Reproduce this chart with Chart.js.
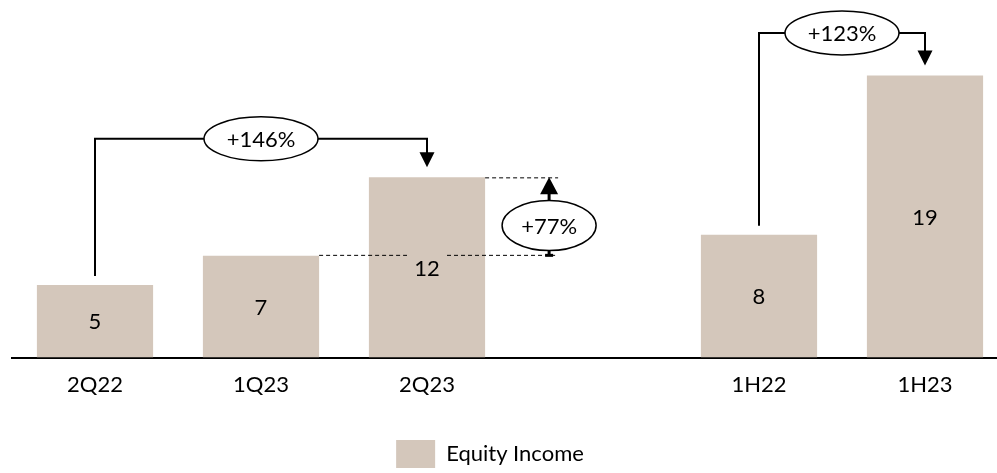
<!DOCTYPE html>
<html>
<head>
<meta charset="utf-8">
<script src="https://cdn.jsdelivr.net/npm/chart.js@4"></script>
<style>
  html, body { margin: 0; padding: 0; background: #fff; overflow: hidden; }
  #wrap { position: absolute; left: -28px; top: 0; width: 1036px; height: 478px; }
</style>
</head>
<body>
<div id="wrap"><canvas id="chart" width="1036" height="478"></canvas></div>
<script>
const categories = ['2Q22', '1Q23', '2Q23', '', '1H22', '1H23'];
const equityIncome = [5.0, 7.0, 12.4, null, 8.45, 19.4];
const seriesName = 'Equity Income';
// growth callouts as printed on the slide
const growthLabels = ['+146%', '+77%', '+123%'];

const BAR = '#d4c7bb';
const INK = '#000000';
const FONT = 'Lato, "Noto Sans", sans-serif';

function arrowHead(ctx, x, y, dir, w, h) {
  // tip at (x, y); dir 1 points down, -1 points up
  ctx.beginPath();
  ctx.moveTo(x, y);
  ctx.lineTo(x - w / 2, y - dir * h);
  ctx.lineTo(x + w / 2, y - dir * h);
  ctx.closePath();
  ctx.fill();
}

function oval(ctx, cx, cy, rx, ry, text) {
  ctx.beginPath();
  ctx.ellipse(cx, cy, rx, ry, 0, 0, Math.PI * 2);
  ctx.fillStyle = '#fff';
  ctx.fill();
  ctx.lineWidth = 1.5;
  ctx.strokeStyle = INK;
  ctx.stroke();
  ctx.fillStyle = INK;
  ctx.font = '22px ' + FONT;
  ctx.textAlign = 'center';
  ctx.textBaseline = 'middle';
  ctx.fillText(text, cx, cy + 1);
}

function bracket(ctx, from, to, yLevel, text) {
  const mid = (from.x + to.x) / 2;
  ctx.save();
  ctx.strokeStyle = INK;
  ctx.fillStyle = INK;
  ctx.lineWidth = 2;
  ctx.beginPath();
  ctx.moveTo(from.x, from.y - 9);
  ctx.lineTo(from.x, yLevel);
  ctx.lineTo(to.x, yLevel);
  ctx.lineTo(to.x, to.y - 22);
  ctx.stroke();
  arrowHead(ctx, to.x, to.y - 10, 1, 15, 15);
  oval(ctx, mid, yLevel, 57, 22, text);
  ctx.restore();
}

function stepUp(ctx, low, high, text) {
  const xr = high.x + high.width / 2;
  const ax = xr + 64;
  ctx.save();
  ctx.strokeStyle = INK;
  ctx.lineWidth = 1;
  ctx.setLineDash([4, 3]);
  ctx.beginPath();
  ctx.moveTo(xr, high.y + 0.5);
  ctx.lineTo(ax + 9, high.y + 0.5);
  // lower level, broken around the value label of the higher bar
  ctx.moveTo(low.x + low.width / 2, low.y - 0.5);
  ctx.lineTo(high.x - 20, low.y - 0.5);
  ctx.moveTo(high.x + 20, low.y - 0.5);
  ctx.lineTo(ax + 6, low.y - 0.5);
  ctx.stroke();
  ctx.setLineDash([]);
  ctx.lineWidth = 3;
  ctx.beginPath();
  ctx.moveTo(ax, high.y + 14);
  ctx.lineTo(ax, low.y);
  ctx.stroke();
  ctx.fillStyle = INK;
  arrowHead(ctx, ax, high.y, -1, 18, 17);
  ctx.fillRect(ax - 4, low.y - 2, 8, 3);
  oval(ctx, ax, (high.y + low.y) / 2 + 9, 47, 25, text);
  ctx.restore();
}

const callouts = {
  id: 'callouts',
  afterDatasetsDraw(chart) {
    const ctx = chart.ctx;
    const bars = chart.getDatasetMeta(0).data;
    const y = chart.scales.y;

    // value labels centred in the bars
    ctx.save();
    ctx.fillStyle = INK;
    ctx.font = '22px ' + FONT;
    ctx.textAlign = 'center';
    ctx.textBaseline = 'middle';
    equityIncome.forEach((v, i) => {
      if (v == null) return;
      const b = bars[i];
      ctx.fillText(String(Math.round(v)), b.x, (b.y + b.base) / 2 + 1);
    });
    ctx.restore();

    bracket(ctx, bars[0], bars[2], y.getPixelForValue(15.05), growthLabels[0]);
    stepUp(ctx, bars[1], bars[2], growthLabels[1]);
    bracket(ctx, bars[4], bars[5], y.getPixelForValue(22.33), growthLabels[2]);
  }
};

new Chart(document.getElementById('chart'), {
  type: 'bar',
  data: {
    labels: categories,
    datasets: [{
      label: seriesName,
      data: equityIncome,
      backgroundColor: BAR,
      borderWidth: 0,
      barPercentage: 0.7,
      categoryPercentage: 1.0
    }]
  },
  options: {
    responsive: false,
    animation: false,
    layout: { padding: 0 },
    plugins: {
      tooltip: { enabled: false },
      legend: {
        position: 'bottom',
        labels: {
          boxWidth: 39,
          boxHeight: 28,
          color: INK,
          padding: 28,
          font: { family: FONT, size: 22 }
        }
      }
    },
    scales: {
      x: {
        z: 1,
        grid: { display: false, drawTicks: false },
        border: { display: true, color: INK, width: 2 },
        ticks: { color: INK, padding: 14, font: { family: FONT, size: 22 } }
      },
      y: {
        min: 0,
        max: 24.6,
        grid: { display: false, drawTicks: false },
        border: { display: false },
        ticks: { display: false },
        // empty strip on the left, keeps the legend centred on the page
        afterFit(scale) { scale.width = 40; }
      }
    }
  },
  plugins: [callouts]
});
</script>
</body>
</html>
